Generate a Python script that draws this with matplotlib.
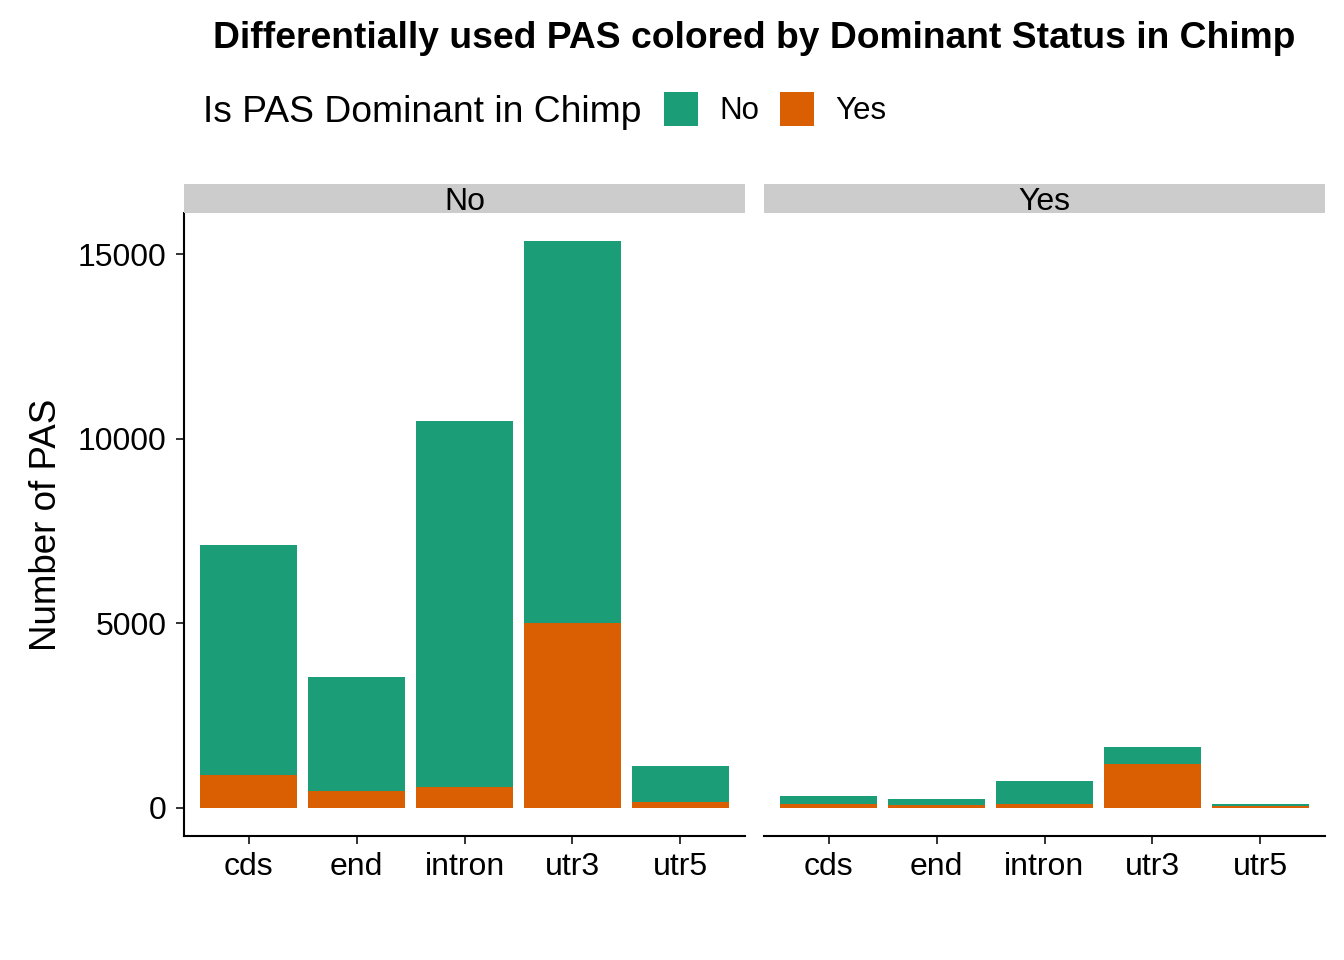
import matplotlib
matplotlib.use("Agg")
import matplotlib.pyplot as plt
from matplotlib.patches import Rectangle

plt.rcParams['font.family'] = ['Liberation Sans', 'DejaVu Sans']

categories = ["cds", "end", "intron", "utr3", "utr5"]
facets = ["No", "Yes"]
# stacked segments, per facet
yes_part = {
    "No":  [890, 455, 565, 5015, 165],
    "Yes": [110, 65, 110, 1195, 55],
}
no_part = {
    "No":  [6245, 3099, 9907, 10340, 970],
    "Yes": [210, 173, 615, 455, 45],
}
legend_labels = ["No", "Yes"]
yticks = [0, 5000, 10000, 15000]

col_no = "#1B9E77"
col_yes = "#D95F02"

W, H = 1344, 960
fig = plt.figure(figsize=(W / 100, H / 100), dpi=100)

def fx(x): return x / W
def fy(y): return 1 - y / H

panels = [(184, 745), (764, 1325)]
ptop, pbot = 213, 836
stop = 184

ymax_data = max(a + b for a, b in zip(yes_part["No"], no_part["No"]))
ylo, yhi = -0.05 * ymax_data, 1.05 * ymax_data

TICK = 23
for i, (facet, (x0, x1)) in enumerate(zip(facets, panels)):
    ax = fig.add_axes([fx(x0), fy(pbot), fx(x1) - fx(x0), fy(ptop) - fy(pbot)])
    xs = list(range(1, len(categories) + 1))
    ax.bar(xs, yes_part[facet], width=0.9, color=col_yes, linewidth=0)
    ax.bar(xs, no_part[facet], width=0.9, bottom=yes_part[facet], color=col_no, linewidth=0)
    ax.set_xlim(0.4, 5.6)
    ax.set_ylim(ylo, yhi)
    ax.set_xticks(xs)
    ax.set_xticklabels(categories, fontsize=TICK)
    for s in ["top", "right"]:
        ax.spines[s].set_visible(False)
    ax.spines["bottom"].set_linewidth(1.5)
    ax.spines["left"].set_linewidth(1.5)
    ax.tick_params(axis="both", length=5.5, width=1.4, color="#333333")
    ax.tick_params(axis="x", pad=6)
    ax.tick_params(axis="y", pad=7)
    if i == 0:
        ax.set_yticks(yticks)
        ax.set_yticklabels([str(v) for v in yticks], fontsize=TICK)
        ax.set_ylabel("Number of PAS", fontsize=26.5, labelpad=10)
    else:
        ax.spines["left"].set_visible(False)
        ax.set_yticks([])
    # strip
    sax = fig.add_axes([fx(x0), fy(ptop), fx(x1) - fx(x0), fy(stop) - fy(ptop)])
    sax.set_facecolor("#CCCCCC")
    sax.set_xticks([]); sax.set_yticks([])
    for s in sax.spines.values():
        s.set_visible(False)
    sax.text(0.5, 0.38, facet, ha="center", va="center", fontsize=TICK, transform=sax.transAxes)

fig.text(fx(754), fy(39), "Differentially used PAS colored by Dominant Status in Chimp",
         ha="center", va="center", fontsize=26.8, fontweight="bold")

# legend
fig.text(fx(203), fy(112), "Is PAS Dominant in Chimp", ha="left", va="center", fontsize=26.8)
for (kx, lbl, c) in [(664, legend_labels[0], col_no), (780, legend_labels[1], col_yes)]:
    fig.patches.append(Rectangle((fx(kx), fy(126)), fx(34), fy(92) - fy(126),
                                 transform=fig.transFigure, color=c, linewidth=0))
    fig.text(fx(kx + 55), fy(111), lbl, ha="left", va="center", fontsize=22.5)

fig.savefig("out.png", dpi=100)
